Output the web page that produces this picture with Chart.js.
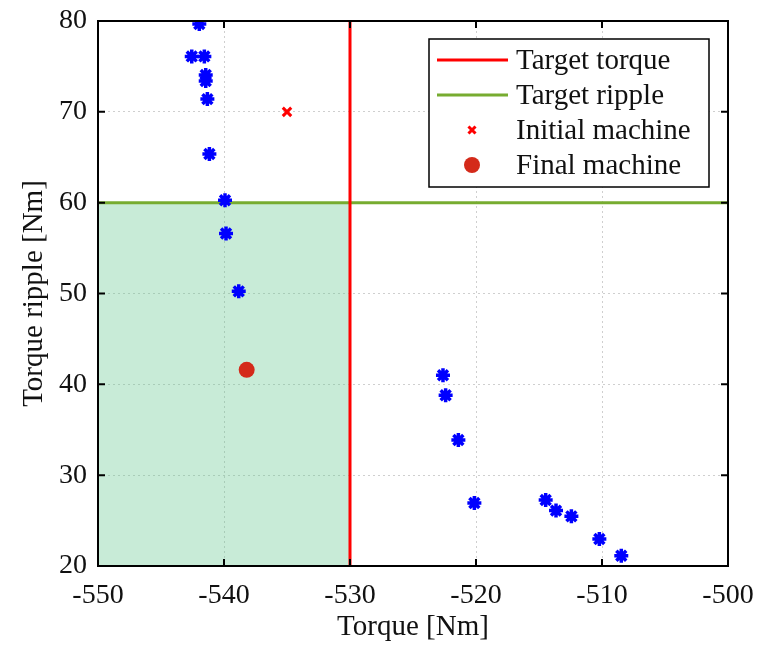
<!DOCTYPE html>
<html lang="en">
  <head>
    <meta charset="UTF-8" />
    <title>Torque vs torque ripple</title>
    <script src="https://cdn.jsdelivr.net/npm/chart.js"></script>
    <style>
      body {
        margin: 0;
        background: white;
      }
    </style>
  </head>
  <body>
    <canvas id="chart" width="758" height="645"></canvas>
    <script>
      // Axis ranges and ticks
      const torqueRange = [-550, -500];
      const rippleRange = [20, 80];
      const tickStep = 10;

      // Targets
      const targetTorque = -530;
      const targetRipple = 60;

      // Optimisation designs (blue asterisks)
      const designTorque = [
        -541.96, -542.56, -541.56, -541.45, -541.45, -541.32, -541.16,
        -539.92, -539.84, -538.83, -522.62, -522.41, -521.4, -520.13,
        -514.47, -513.65, -512.43, -510.21, -508.47,
      ];
      const designRipple = [
        79.67, 76.1, 76.1, 74.05, 73.4, 71.4, 65.36, 60.26, 56.6, 50.24,
        41.0, 38.8, 33.87, 26.94, 27.27, 26.1, 25.47, 22.97, 21.13,
      ];

      // Initial and final machine
      const initialTorque = [-535];
      const initialRipple = [70];
      const finalTorque = [-538.2];
      const finalRipple = [41.6];

      const serif = "'Liberation Serif', 'DejaVu Serif', serif";

      const pts = (xs, ys) => xs.map((x, i) => ({ x: x, y: ys[i] }));

      // draws the black box and the inward tick marks
      const framePlugin = {
        id: "frame",
        afterDatasetsDraw(chart) {
          const { ctx, chartArea: a, scales } = chart;
          ctx.save();
          ctx.strokeStyle = "#000";
          ctx.lineWidth = 2;
          ctx.strokeRect(a.left, a.top, a.right - a.left, a.bottom - a.top);
          const len = 7;
          ctx.beginPath();
          scales.x.ticks.forEach((t) => {
            const px = scales.x.getPixelForValue(t.value);
            ctx.moveTo(px, a.bottom);
            ctx.lineTo(px, a.bottom - len);
            ctx.moveTo(px, a.top);
            ctx.lineTo(px, a.top + len);
          });
          scales.y.ticks.forEach((t) => {
            const py = scales.y.getPixelForValue(t.value);
            ctx.moveTo(a.left, py);
            ctx.lineTo(a.left + len, py);
            ctx.moveTo(a.right, py);
            ctx.lineTo(a.right - len, py);
          });
          ctx.stroke();
          ctx.restore();
        },
      };

      // legend box inside the plot, upper right
      const legendPlugin = {
        id: "boxLegend",
        afterDraw(chart) {
          const ctx = chart.ctx;
          const items = chart.data.datasets.filter((d) => d.legendShape);
          const box = { x: 429, y: 39, w: 280, h: 148 };
          const rowH = 35;
          ctx.save();
          ctx.fillStyle = "#fff";
          ctx.fillRect(box.x, box.y, box.w, box.h);
          ctx.strokeStyle = "#000";
          ctx.lineWidth = 1.5;
          ctx.strokeRect(box.x, box.y, box.w, box.h);
          items.forEach((d, i) => {
            const cy = box.y + 21 + i * rowH;
            if (d.legendShape === "line") {
              ctx.strokeStyle = d.borderColor;
              ctx.lineWidth = d.borderWidth;
              ctx.beginPath();
              ctx.moveTo(box.x + 8, cy);
              ctx.lineTo(box.x + 79, cy);
              ctx.stroke();
            } else {
              ctx.strokeStyle = d.borderColor;
              ctx.fillStyle = d.backgroundColor;
              ctx.lineWidth = d.borderWidth;
              Chart.helpers.drawPoint(
                ctx,
                {
                  pointStyle: d.pointStyle,
                  radius: d.legendRadius,
                  borderWidth: d.borderWidth,
                },
                box.x + 43,
                cy
              );
            }
            ctx.fillStyle = "#111";
            ctx.font = "29px " + serif;
            ctx.textBaseline = "middle";
            ctx.textAlign = "left";
            ctx.fillText(d.label, box.x + 87, cy + 1);
          });
          ctx.restore();
        },
      };

      new Chart(document.getElementById("chart").getContext("2d"), {
        type: "scatter",
        data: {
          datasets: [
            {
              label: "Designs",
              data: pts(designTorque, designRipple),
              pointStyle: "star",
              pointRadius: 7,
              borderWidth: 3.5,
              borderColor: "#0000ff",
              backgroundColor: "#0000ff",
              order: 0,
            },
            {
              label: "Target torque",
              type: "line",
              legendShape: "line",
              data: pts([targetTorque, targetTorque], rippleRange),
              borderColor: "#ff0000",
              borderWidth: 3,
              pointRadius: 0,
              fill: false,
              order: 2,
            },
            {
              label: "Target ripple",
              type: "line",
              legendShape: "line",
              data: pts(torqueRange, [targetRipple, targetRipple]),
              borderColor: "#77ac30",
              borderWidth: 3,
              pointRadius: 0,
              fill: false,
              order: 3,
            },
            {
              label: "Initial machine",
              legendShape: "point",
              data: pts(initialTorque, initialRipple),
              pointStyle: "crossRot",
              pointRadius: 6,
              legendRadius: 5,
              borderWidth: 3,
              borderColor: "#ff0000",
              backgroundColor: "#ff0000",
              order: 1,
            },
            {
              label: "Final machine",
              legendShape: "point",
              data: pts(finalTorque, finalRipple),
              pointStyle: "circle",
              pointRadius: 8,
              legendRadius: 8,
              borderWidth: 0,
              borderColor: "#d42a1a",
              backgroundColor: "#d42a1a",
              order: 1,
            },
            {
              label: "Feasible region",
              type: "line",
              data: pts([torqueRange[0], targetTorque], [targetRipple, targetRipple]),
              borderWidth: 0,
              pointRadius: 0,
              fill: "start",
              backgroundColor: "rgba(98, 198, 141, 0.35)",
              order: 4,
            },
          ],
        },
        options: {
          responsive: false,
          animation: false,
          layout: { padding: { left: 0, right: 30, top: 21, bottom: 0 } },
          plugins: {
            legend: { display: false },
            tooltip: { enabled: false },
          },
          scales: {
            x: {
              type: "linear",
              min: torqueRange[0],
              max: torqueRange[1],
              afterFit: (s) => {
                s.height = 79;
                s.paddingLeft = 0;
                s.paddingRight = 0;
              },
              ticks: {
                stepSize: tickStep,
                color: "#111",
                font: { family: serif, size: 28 },
                padding: 13,
                maxRotation: 0,
              },
              grid: { color: "#cfcfcf", lineWidth: 1, drawTicks: false },
              border: { display: false, dash: [2, 3] },
              title: {
                display: true,
                text: "Torque [Nm]",
                color: "#111",
                font: { family: serif, size: 29 },
                padding: { top: 0, bottom: 0 },
              },
            },
            y: {
              min: rippleRange[0],
              max: rippleRange[1],
              afterFit: (s) => {
                s.width = 98;
                s.paddingTop = 0;
                s.paddingBottom = 0;
              },
              ticks: {
                stepSize: tickStep,
                color: "#111",
                font: { family: serif, size: 28 },
                padding: 11,
              },
              grid: { color: "#cfcfcf", lineWidth: 1, drawTicks: false },
              border: { display: false, dash: [2, 3] },
              title: {
                display: true,
                text: "Torque ripple [Nm]",
                color: "#111",
                font: { family: serif, size: 29 },
                padding: { top: 17, bottom: 0 },
              },
            },
          },
        },
        plugins: [framePlugin, legendPlugin],
      });
    </script>
  </body>
</html>
